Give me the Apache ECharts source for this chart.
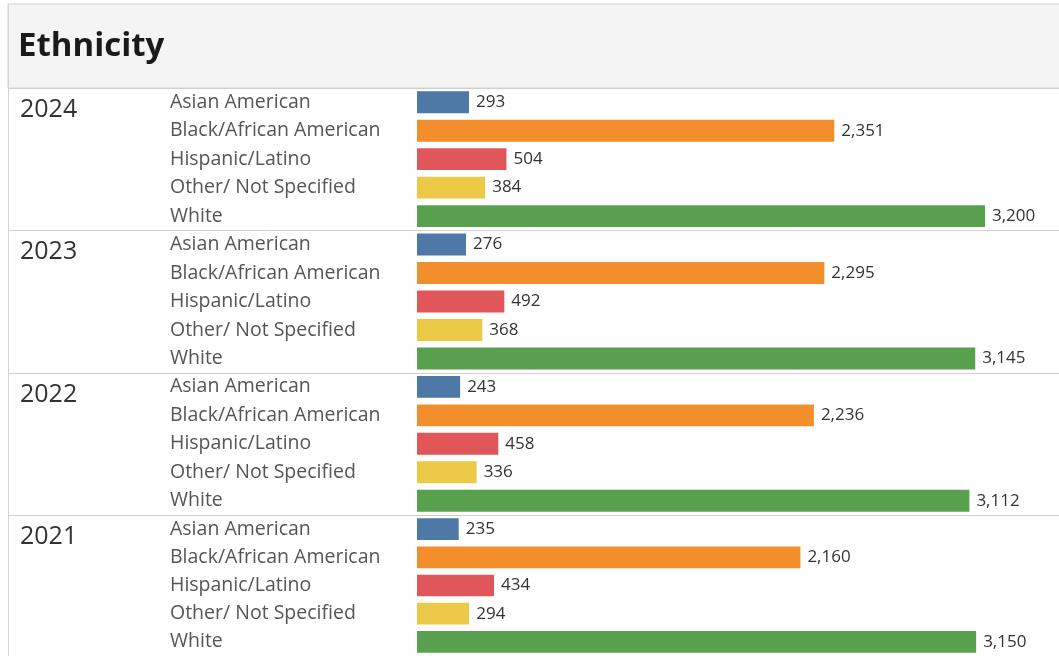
<!DOCTYPE html>
<html>
<head>
<meta charset="utf-8">
<script src="https://cdn.jsdelivr.net/npm/echarts@6/dist/echarts.min.js"></script>
<style>
  html, body { margin: 0; padding: 0; background: #ffffff; }
  #chart { width: 1059px; height: 656px; }
</style>
</head>
<body>
<div id="chart"></div>
<script>
// Enrollment by ethnicity, one panel per year
const title = 'Ethnicity';
const years = ['2024', '2023', '2022', '2021'];
const categories = ['Asian American', 'Black/African American', 'Hispanic/Latino', 'Other/ Not Specified', 'White'];
const values2024 = [293, 2351, 504, 384, 3200];
const values2023 = [276, 2295, 492, 368, 3145];
const values2022 = [243, 2236, 458, 336, 3112];
const values2021 = [235, 2160, 434, 294, 3150];
const valuesByYear = [values2024, values2023, values2022, values2021];
const colors = ['#4e79a7', '#f28e2b', '#e15759', '#edc948', '#59a14f'];

const FONT = '"Open Sans", "Noto Sans", sans-serif';
const panelTop = 88;
const panelH = 142.33;
const barLeft = 417;
const barWidth = 568;
const valueMax = 3200;

const chart = echarts.init(document.getElementById('chart'));

const grids = [], xAxes = [], yAxes = [], series = [], graphics = [];

// header band and frame
graphics.push({
  type: 'rect', shape: { x: 8, y: 4, width: 1060, height: panelTop - 4 },
  style: { fill: '#f4f4f4', stroke: '#d4d4d4', lineWidth: 1 }, silent: true
});
graphics.push({
  type: 'line', shape: { x1: 8.5, y1: 4, x2: 8.5, y2: 656 },
  style: { stroke: '#d4d4d4', lineWidth: 1 }, silent: true
});
graphics.push({
  type: 'text', x: 18, y: 47,
  style: { text: title, font: 'bold 33px ' + FONT, fill: '#1a1a1a', verticalAlign: 'middle' }
});

years.forEach((year, i) => {
  const top = panelTop + i * panelH;
  grids.push({ left: barLeft, top: top, width: barWidth, height: panelH, containLabel: false });
  xAxes.push({
    gridIndex: i, type: 'value', min: 0, max: valueMax, show: false
  });
  yAxes.push({
    gridIndex: i, type: 'category', data: categories, inverse: true,
    axisLine: { show: false }, axisTick: { show: false }, splitLine: { show: false },
    axisLabel: {
      align: 'left', margin: barLeft - 170, fontFamily: FONT, fontSize: 19.5, color: '#555555',
      padding: [3, 0, 0, 0]
    }
  });
  series.push({
    type: 'bar', xAxisIndex: i, yAxisIndex: i,
    data: valuesByYear[i].map((v, k) => ({ value: v, itemStyle: { color: colors[k] } })),
    barCategoryGap: '23%',
    silent: true,
    label: {
      show: true, position: 'right', distance: 7,
      fontFamily: FONT, fontSize: 17, color: '#333333',
      formatter: p => p.value.toLocaleString('en-US')
    }
  });
  // panel separator line
  graphics.push({
    type: 'line', shape: { x1: 8, y1: Math.round(top) + 0.5, x2: 1059, y2: Math.round(top) + 0.5 },
    style: { stroke: '#cfcfcf', lineWidth: 1 }, silent: true
  });
  // year label
  graphics.push({
    type: 'text', x: 20, y: top + 22,
    style: { text: year, font: '25px ' + FONT, fill: '#333333', verticalAlign: 'middle' }
  });
});

chart.setOption({
  animation: false,
  backgroundColor: '#ffffff',
  grid: grids,
  xAxis: xAxes,
  yAxis: yAxes,
  series: series,
  graphic: graphics
});
</script>
</body>
</html>
